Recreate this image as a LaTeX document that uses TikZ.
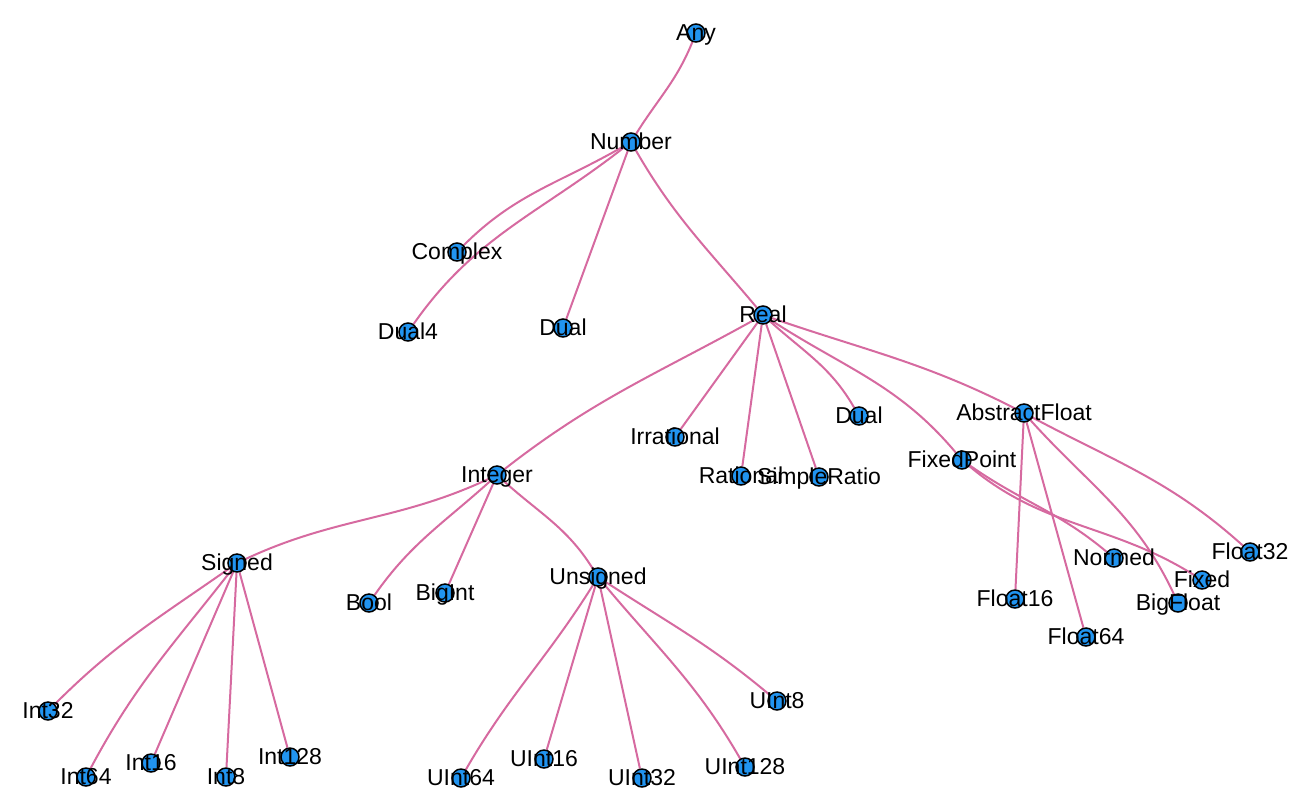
\documentclass[tikz,border=0pt]{standalone}
\usepackage{fontspec}
\setmainfont{Liberation Sans}
\usepackage{tikz}
\usetikzlibrary{backgrounds}
\definecolor{linkpink}{RGB}{214,106,160}
\definecolor{dotblue}{RGB}{33,148,240}

\begin{document}
\begin{tikzpicture}[
    x=0.5pt, y=-0.5pt,
    font=\fontsize{11.5}{13}\selectfont,
    vertex/.style={circle, draw=black, fill=dotblue, line width=0.75pt, minimum size=9pt, inner sep=0pt},
    every label/.style={text height=0.716em, text depth=0pt, inner sep=0pt},
    every edge/.style={draw=linkpink, line width=1pt}
]
\useasboundingbox (0,0) rectangle (1302,800);

% Nodes
\node[vertex, label=center:Any] (Any) at (696,33) {};
\node[vertex, label=center:Number] (Number) at (631,142) {};
\node[vertex, label=center:Complex] (Complex) at (457,252) {};
\node[vertex, label=center:Dual4] (Dual4) at (408,332) {};
\node[vertex, label=center:Dual] (Dual1) at (563,328) {};
\node[vertex, label=center:Real] (Real) at (763,315) {};
\node[vertex, label=center:Integer] (Integer) at (497,475) {};
\node[vertex, label=center:Irrational] (Irrational) at (675,437) {};
\node[vertex, label=center:Rational] (Rational) at (741,476) {};
\node[vertex, label=center:SimpleRatio] (SimpleRatio) at (819,477) {};
\node[vertex, label=center:Dual] (Dual2) at (859,416) {};
\node[vertex, label=center:AbstractFloat] (AbstractFloat) at (1024,413) {};
\node[vertex, label=center:FixedPoint] (FixedPoint) at (962,460) {};
\node[vertex, label=center:Float32] (Float32) at (1250,552) {};
\node[vertex, label=center:Normed] (Normed) at (1114,558) {};
\node[vertex, label=center:Fixed] (Fixed) at (1202,580) {};
\node[vertex, label=center:BigFloat] (BigFloat) at (1178,603) {};
\node[vertex, label=center:Float16] (Float16) at (1015,599) {};
\node[vertex, label=center:Float64] (Float64) at (1086,637) {};
\node[vertex, label=center:Signed] (Signed) at (237,563) {};
\node[vertex, label=center:Bool] (Bool) at (369,603) {};
\node[vertex, label=center:BigInt] (BigInt) at (445,593) {};
\node[vertex, label=center:Unsigned] (Unsigned) at (598,577) {};
\node[vertex, label=center:Int32] (Int32) at (48,711) {};
\node[vertex, label=center:Int64] (Int64) at (86,777) {};
\node[vertex, label=center:Int16] (Int16) at (151,763) {};
\node[vertex, label=center:Int8] (Int8) at (226,777) {};
\node[vertex, label=center:Int128] (Int128) at (290,757) {};
\node[vertex, label=center:UInt64] (UInt64) at (461,778) {};
\node[vertex, label=center:UInt16] (UInt16) at (544,759) {};
\node[vertex, label=center:UInt32] (UInt32) at (642,778) {};
\node[vertex, label=center:UInt128] (UInt128) at (745,767) {};
\node[vertex, label=center:UInt8] (UInt8) at (777,701) {};

% Edges
\begin{scope}[on background layer]
\path (Any) edge[out=-112, in=58] (Number);
\path (Number) edge[out=-150, in=45] (Complex);
\path (Number) edge[out=-142, in=55] (Dual4);
\path (Number) edge (Dual1);
\path (Number) edge[out=-60, in=130] (Real);
\path (Real) edge[out=-151, in=38] (Integer);
\path (Real) edge (Irrational);
\path (Real) edge (Rational);
\path (Real) edge (SimpleRatio);
\path (Real) edge[out=-42, in=120] (Dual2);
\path (Real) edge[out=-33, in=130] (FixedPoint);
\path (Real) edge[out=-19, in=153] (AbstractFloat);
\path (AbstractFloat) edge (Float16);
\path (AbstractFloat) edge (Float64);
\path (AbstractFloat) edge[out=-48, in=115] (BigFloat);
\path (AbstractFloat) edge[out=-28, in=138] (Float32);
\path (FixedPoint) edge[out=-35, in=140] (Normed);
\path (FixedPoint) edge[out=-40, in=148] (Fixed);
\path (Integer) edge[out=-155, in=25] (Signed);
\path (Integer) edge[out=-138, in=55] (Bool);
\path (Integer) edge (BigInt);
\path (Integer) edge[out=-42, in=122] (Unsigned);
\path (Signed) edge[out=-145, in=45] (Int32);
\path (Signed) edge[out=-128, in=62] (Int64);
\path (Signed) edge (Int16);
\path (Signed) edge (Int8);
\path (Signed) edge (Int128);
\path (Unsigned) edge[out=-122, in=60] (UInt64);
\path (Unsigned) edge (UInt16);
\path (Unsigned) edge (UInt32);
\path (Unsigned) edge[out=-50, in=120] (UInt128);
\path (Unsigned) edge[out=-33, in=140] (UInt8);
\end{scope}

\end{tikzpicture}
\end{document}
